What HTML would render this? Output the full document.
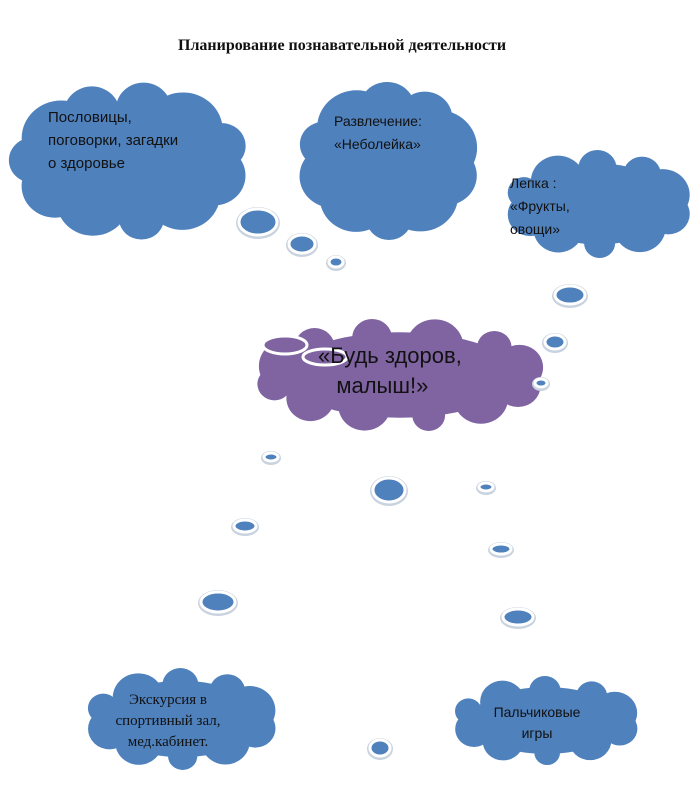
<!DOCTYPE html>
<html><head><meta charset="utf-8"><style>
body{margin:0;background:#fff;width:699px;height:803px;overflow:hidden;position:relative}
svg{position:absolute;left:0;top:0}
.t{position:absolute;font-family:"Liberation Sans","DejaVu Sans",sans-serif;font-size:15px;line-height:23px;color:#111;white-space:nowrap}
</style></head><body>
<svg id="s" width="699" height="803"></svg>
<div class="t" style="left:178px;top:34px;font-family:'Liberation Serif',serif;font-weight:bold;font-size:16px">Планирование познавательной деятельности</div>
<div class="t" style="left:48px;top:106px">Пословицы,<br>поговорки, загадки<br>о здоровье</div>
<div class="t" style="left:334px;top:110px;font-size:14px">Развлечение:<br>«Неболейка»</div>
<div class="t" style="left:510px;top:172px;font-size:14px">Лепка :<br>«Фрукты,<br>овощи»</div>
<div class="t" style="left:318px;top:341px;font-size:22px;line-height:30px">«Будь здоров,<br>&nbsp;&nbsp;&nbsp;малыш!»</div>
<div class="t" style="left:98px;top:690px;width:140px;text-align:center;font-family:'Liberation Serif',serif;font-size:15px;line-height:21px">Экскурсия в<br>спортивный зал,<br>мед.кабинет.</div>
<div class="t" style="left:482px;top:702px;width:110px;text-align:center;font-size:14px;line-height:21px">Пальчиковые<br>игры</div>
<script>
var s=document.getElementById('s'),NS='http://www.w3.org/2000/svg';
function el(g,cx,cy,rx,ry,fill,sw){var e=document.createElementNS(NS,'ellipse');e.setAttribute('cx',cx);e.setAttribute('cy',cy);e.setAttribute('rx',rx);e.setAttribute('ry',ry);e.setAttribute('fill',fill);if(sw){e.setAttribute('stroke','#fff');e.setAttribute('stroke-width',sw)}g.appendChild(e);}
function cloud(x1,y1,x2,y2,col,n){
 var g1=document.createElementNS(NS,'g'),g2=document.createElementNS(NS,'g');s.appendChild(g1);s.appendChild(g2);
 var cx=(x1+x2)/2,cy=(y1+y2)/2,rx=(x2-x1)/2,ry=(y2-y1)/2,br=Math.min(rx,ry)*0.42;
 var list=[[cx,cy,rx*0.8,ry*0.75]];
 for(var i=0;i<n;i++){var a=i/n*2*Math.PI+0.3;var r=br*(0.9+0.25*Math.sin(i*2.3));
  list.push([cx+(rx-r)*Math.cos(a),cy+(ry-r)*Math.sin(a),r*1.05,r]);}
 list.forEach(function(p){el(g1,p[0],p[1],p[2],p[3],'#c9d3e0',6)});
 list.forEach(function(p){el(g1,p[0],p[1],p[2],p[3],col,3)});
 list.forEach(function(p){el(g2,p[0],p[1],p[2],p[3],col,0)});
}
var B='#4f81bd',P='#8064a2';
cloud(10,82,248,240,B,11);
cloud(298,82,478,240,B,10);
cloud(505,150,692,258,B,10);
cloud(255,318,545,432,P,12);
cloud(85,668,278,770,B,10);
cloud(452,676,640,765,B,10);
var g=document.createElementNS(NS,'g');s.appendChild(g);
[[258,222,19,13],[302,244,13,9],[336,262,7,5],[570,295,15,9],[555,342,10,7],[541,383,6,4],[271,457,7,4],[389,490,16,12],[486,487,7,4],[245,526,11,6],[501,549,10,5],[218,602,17,10],[518,617,15,8],[380,748,10,8]].forEach(function(p){el(g,p[0],p[1]+1,p[2]+3,p[3]+3,'#c9d3e0',0);el(g,p[0],p[1],p[2],p[3],B,3)});
var q=document.createElementNS(NS,'g');s.appendChild(q);
el(q,285,345,22,9,P,3);el(q,325,357,22,8,P,3);
</script>
</body></html>
